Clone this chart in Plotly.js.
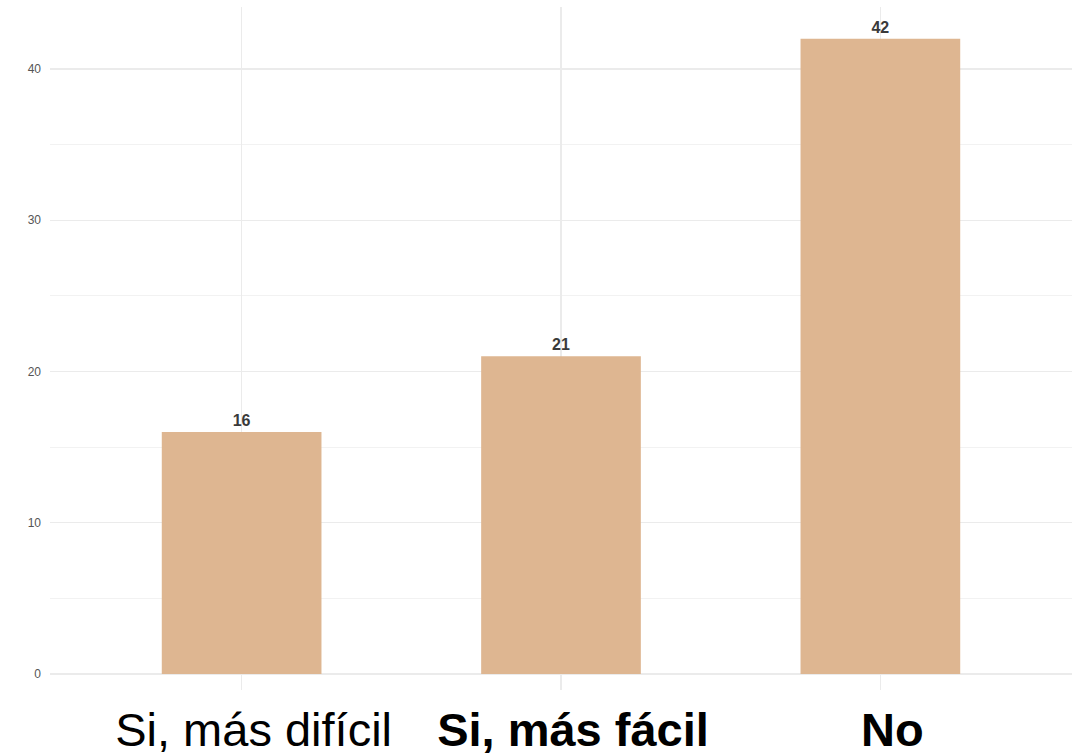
<!DOCTYPE html>
<html>
<head>
<meta charset="utf-8">
<script src="https://cdn.plot.ly/plotly-3.0.1.min.js"></script>
<style>html,body{margin:0;padding:0;background:#fff;}#chart{width:1079px;height:756px;}</style>
</head>
<body>
<div id="chart"></div>
<script>
const categories = ["Si, más difícil", "Si, más fácil", "No"];
const tickLabels = ["Si, más difícil", "<b>Si, más fácil</b>", "<b>No</b>"];
const counts = [16, 21, 42];
const yTicks = [0, 10, 20, 30, 40];

const trace = {
  type: 'bar',
  x: categories,
  y: counts,
  text: counts.map(v => '<b>' + v + '</b>'),
  textposition: 'outside',
  cliponaxis: false,
  textfont: {family: 'Liberation Sans, Arial, sans-serif', size: 16, color: '#3a3a3a'},
  marker: {color: '#deb691', line: {width: 0}},
  hoverinfo: 'x+y'
};

const layout = {
  width: 1079, height: 756,
  margin: {l: 50, r: 7, t: 7, b: 66},
  paper_bgcolor: '#ffffff', plot_bgcolor: '#ffffff',
  bargap: 0.5,
  showlegend: false,
  xaxis: {
    type: 'category',
    range: [-0.6, 2.6],
    tickvals: categories,
    ticktext: tickLabels,
    showgrid: true, gridcolor: '#ebebeb', gridwidth: 1.2,
    zeroline: false, showline: false, ticks: '',
    automargin: false,
    ticklabelstandoff: 8,
    ticklabelshift: 12,
    tickfont: {family: 'Liberation Sans, Arial, sans-serif', size: 47, color: '#000000'}
  },
  yaxis: {
    range: [-1.06, 44.1],
    tickvals: yTicks,
    ticktext: yTicks.map(String),
    showgrid: true, gridcolor: '#ebebeb', gridwidth: 1.2,
    minor: {dtick: 5, tick0: 0, showgrid: true, gridcolor: '#f2f2f2', gridwidth: 1},
    zeroline: false, showline: false, ticks: '',
    automargin: false,
    ticklabelstandoff: 8,
    tickfont: {family: 'Liberation Sans, Arial, sans-serif', size: 12, color: '#555555'}
  }
};

Plotly.newPlot('chart', [trace], layout, {displayModeBar: false, staticPlot: true});
</script>
</body>
</html>
